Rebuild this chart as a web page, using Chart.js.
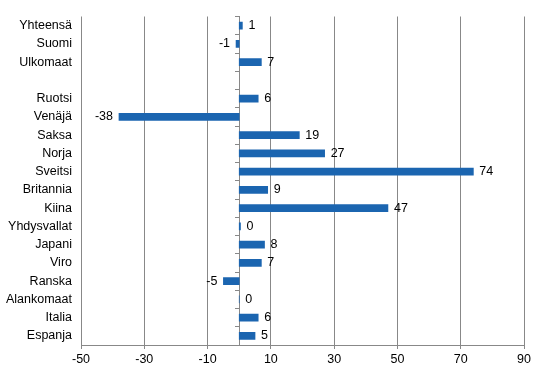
<!DOCTYPE html>
<html>
<head>
<meta charset="utf-8">
<script src="https://cdn.jsdelivr.net/npm/chart.js@4"></script>
<style>
  html, body { margin: 0; padding: 0; background: #fff; }
  #wrap { width: 544px; height: 374px; }
</style>
</head>
<body>
<div id="wrap"><canvas id="chart" width="544" height="374"></canvas></div>
<script>
const countries = ['Yhteensä', 'Suomi', 'Ulkomaat', '', 'Ruotsi', 'Venäjä', 'Saksa', 'Norja', 'Sveitsi',
  'Britannia', 'Kiina', 'Yhdysvallat', 'Japani', 'Viro', 'Ranska', 'Alankomaat', 'Italia', 'Espanja'];
// Yhdysvallat is a small positive change shown rounded as 0
const changes = [1, -1, 7, null, 6, -38, 19, 27, 74, 9, 47, 0.4, 8, 7, -5, 0, 6, 5];
const xMin = -50;
const xMax = 90;
const xStep = 20;

const fontFamily = '"Liberation Sans", Arial, sans-serif';

// value labels at the bar ends
const valueLabels = {
  id: 'valueLabels',
  afterDatasetsDraw(chart) {
    const ctx = chart.ctx;
    const meta = chart.getDatasetMeta(0);
    ctx.save();
    ctx.font = '12.5px ' + fontFamily;
    ctx.fillStyle = '#000';
    ctx.textBaseline = 'middle';
    meta.data.forEach((bar, i) => {
      const v = changes[i];
      if (v === null) return;
      const txt = String(Math.round(v));
      if (v < 0) {
        ctx.textAlign = 'right';
        ctx.fillText(txt, bar.x - 6, bar.y);
      } else {
        ctx.textAlign = 'left';
        ctx.fillText(txt, bar.x + 6, bar.y);
      }
    });
    ctx.restore();
  }
};

const ctx = document.getElementById('chart').getContext('2d');
new Chart(ctx, {
  type: 'bar',
  data: {
    labels: countries,
    datasets: [{
      data: changes,
      backgroundColor: '#1b65b0',
      borderWidth: 0,
      barThickness: 7
    }]
  },
  options: {
    indexAxis: 'y',
    responsive: false,
    animation: false,
    layout: { padding: { top: 13, right: 20, left: 0, bottom: 0 } },
    plugins: {
      legend: { display: false },
      tooltip: { enabled: false }
    },
    scales: {
      x: {
        min: xMin,
        max: xMax,
        ticks: {
          stepSize: xStep,
          color: '#000',
          font: { family: fontFamily, size: 12.5 },
          padding: 3
        },
        grid: {
          color: '#888',
          tickLength: 4,
          tickColor: '#888'
        },
        border: { display: true, color: '#888' },
        afterFit: (s) => { s.height = 29; }
      },
      y: {
        position: 'left',
        ticks: {
          color: '#000',
          font: { family: fontFamily, size: 12.5 },
          padding: 9
        },
        grid: { display: false, drawTicks: false },
        border: { display: false },
        afterFit: (s) => { s.width = 81; }
      },
      y2: {
        type: 'category',
        position: { x: 0 },
        ticks: { display: false },
        grid: {
          offset: true,
          drawOnChartArea: false,
          drawTicks: true,
          tickLength: 4,
          tickColor: '#888'
        },
        border: { display: true, color: '#888' }
      }
    }
  },
  plugins: [valueLabels]
});
</script>
</body>
</html>
